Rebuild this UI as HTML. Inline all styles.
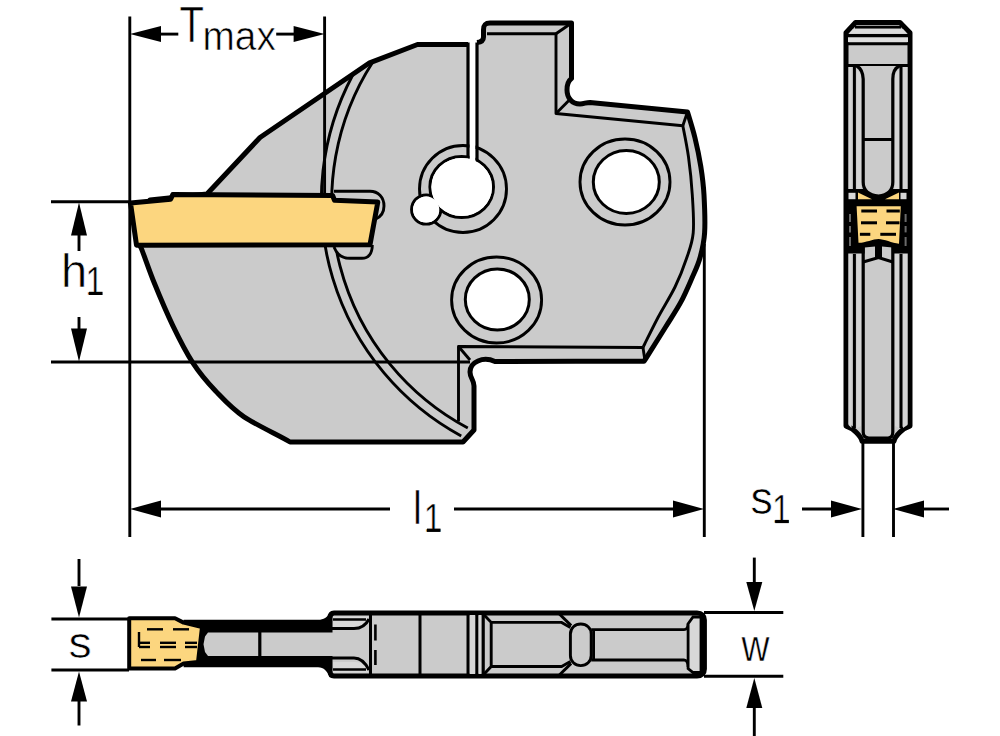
<!DOCTYPE html>
<html><head><meta charset="utf-8"><style>
html,body{margin:0;padding:0;background:#fff;width:1000px;height:736px;overflow:hidden}
svg{display:block}
</style></head><body>
<svg width="1000" height="736" viewBox="0 0 1000 736">
<rect width="1000" height="736" fill="#fff"/>
<path d="M477,42.6 C482,42 483.5,40 483.5,37 L483.5,30 C483.5,25 485,23 490,23 L571.5,23 L571.5,78.5 C568,81 567,85 567,90 C567,98 572,104 580,104 C584,104 586,102.4 590,102.4 L687.5,112 C688.8,116.3 692.8,128.9 695,138 C697.2,147.1 699.3,157 700.8,166.5 C702.3,176 703.4,183.9 704,195 C704.6,206.1 705.3,222.4 704.6,233 C703.9,243.6 701.9,251.1 699.8,258.5 C697.7,265.9 695.4,270.2 692.2,277.5 C689,284.8 685.2,293.9 680.8,302.2 C676.4,310.4 671.3,317.8 665.6,327 C659.9,336.2 650.2,351.7 646.6,357.4 C643,363.1 644.3,360.4 643.8,361 L495,361.5 C483,356 470,362 470,372 C470,378 474,380 474,386 L474,430 L463,442 L290,442 C282.3,437 256.4,425.1 244,416.8 C231.6,408.5 224.2,400 215.6,391 C207,382 199.8,373.5 192.7,362.6 C185.6,351.7 179.2,338.9 172.8,325.6 C166.4,312.3 159.4,295.6 154.2,282.8 C149,270 144.1,255.1 141.4,248.6 C138.7,242.1 138.6,244.8 138,244 L150,200 L207,194 L260,137.5 L369.6,62.8 L417.5,44.5 L468,44.5 L468,170 L477,170 Z" fill="#cbcbcb"/>
<path d="M477,42.6 C482,42 483.5,40 483.5,37 L483.5,30 C483.5,25 485,23 490,23 L571.5,23 L571.5,78.5 C568,81 567,85 567,90 C567,98 572,104 580,104 C584,104 586,102.4 590,102.4 L687.5,112 C688.8,116.3 692.8,128.9 695,138 C697.2,147.1 699.3,157 700.8,166.5 C702.3,176 703.4,183.9 704,195 C704.6,206.1 705.3,222.4 704.6,233 C703.9,243.6 701.9,251.1 699.8,258.5 C697.7,265.9 695.4,270.2 692.2,277.5 C689,284.8 685.2,293.9 680.8,302.2 C676.4,310.4 671.3,317.8 665.6,327 C659.9,336.2 650.2,351.7 646.6,357.4 C643,363.1 644.3,360.4 643.8,361 L495,361.5 C483,356 470,362 470,372 C470,378 474,380 474,386 L474,430 L463,442 L290,442 C282.3,437 256.4,425.1 244,416.8 C231.6,408.5 224.2,400 215.6,391 C207,382 199.8,373.5 192.7,362.6 C185.6,351.7 179.2,338.9 172.8,325.6 C166.4,312.3 159.4,295.6 154.2,282.8 C149,270 144.1,255.1 141.4,248.6 C138.7,242.1 138.6,244.8 138,244 L150,200 L207,194 L260,137.5 L369.6,62.8 L417.5,44.5 L468,44.5" fill="none" stroke="#000" stroke-width="5" stroke-linejoin="round"/>
<path d="M487,33.8 L556,33.8 L556,113.5 L682.8,125.7 C683.8,130.9 686.9,145.4 688.5,157 C690.1,168.6 691.5,182.3 692.3,195 C693.1,207.7 694.2,222.4 693.2,233 C692.2,243.6 689.5,249.5 686.5,258.5 C683.5,267.5 679.8,277.2 675,287 C670.2,296.8 663,308 658,317.5 C653,327 647.2,339 644.7,344 C642.2,349 643.3,346.9 643,347.5 L458.5,346.5 L458.5,421.5" fill="none" stroke="#000" stroke-width="2.9" stroke-linejoin="round"/>
<line x1="571.5" y1="23" x2="556" y2="33.8" stroke="#000" stroke-width="2.9" />
<line x1="568.6" y1="100.7" x2="556" y2="113.5" stroke="#000" stroke-width="2.9" />
<line x1="687.5" y1="112" x2="682.8" y2="125.7" stroke="#000" stroke-width="2.9" />
<line x1="645" y1="361" x2="643" y2="347.5" stroke="#000" stroke-width="2.9" />
<line x1="458.5" y1="346.5" x2="470" y2="360" stroke="#000" stroke-width="2.9" />
<path d="M352.5,75.5 A267.6,267.6 0 0 0 461.2,436" fill="none" stroke="#000" stroke-width="2.9"/>
<path d="M372.5,62.5 A256.8,256.8 0 0 0 467.8,428" fill="none" stroke="#000" stroke-width="2.9"/>
<ellipse cx="463" cy="189" rx="43.5" ry="43.5" fill="none" stroke="#000" stroke-width="2.9"/>
<circle cx="426.2" cy="209.5" r="14.6" fill="#fff" stroke="#000" stroke-width="3"/>
<ellipse cx="461.7" cy="187" rx="31.8" ry="30.5" fill="#fff" stroke="#000" stroke-width="3"/>
<circle cx="426.2" cy="209.5" r="13.1" fill="#fff"/>
<ellipse cx="461.7" cy="187" rx="30.3" ry="29" fill="#fff"/>
<rect x="469.5" y="30" width="6" height="135" fill="#fff"/>
<line x1="468" y1="42.5" x2="468" y2="158" stroke="#000" stroke-width="3.2" />
<line x1="477" y1="42.5" x2="477" y2="160" stroke="#000" stroke-width="3.2" />
<path d="M437,199 A31.8,30.5 0 0 0 441,211" fill="none" stroke="#fff" stroke-width="0"/>
<ellipse cx="625" cy="182" rx="45" ry="43" fill="none" stroke="#000" stroke-width="2.9"/>
<ellipse cx="626.3" cy="182" rx="33" ry="31.5" fill="#fff" stroke="#000" stroke-width="3"/>
<ellipse cx="496.6" cy="300" rx="45" ry="43" fill="none" stroke="#000" stroke-width="2.9"/>
<ellipse cx="497.3" cy="299.5" rx="32" ry="30.5" fill="#fff" stroke="#000" stroke-width="3"/>
<path d="M334,191.2 L370,191.2 C378,191.2 384,197 384,206 C384,213 381,217 375,219.5" fill="#cbcbcb" stroke="#000" stroke-width="2.9"/>
<path d="M334,247 C337,255 342,258.3 350,258.3 L362,258.3 C368,258.3 372.3,254 372.3,245" fill="#cbcbcb" stroke="#000" stroke-width="2.9"/>
<path d="M130.5,203.1 L170.6,199.3 L172.8,194.6 L332.6,195.5 L334.5,200.2 L377.8,202.1 L370,244.7 L136.5,245.2 Z" fill="#fcd67f" stroke="#000" stroke-width="5" stroke-linejoin="round"/>
<line x1="129.8" y1="16.5" x2="129.8" y2="537" stroke="#000" stroke-width="2.9" />
<line x1="324.6" y1="16.5" x2="324.6" y2="196" stroke="#000" stroke-width="2.9" />
<line x1="51" y1="201.7" x2="131" y2="201.7" stroke="#000" stroke-width="2.9" />
<line x1="51" y1="362" x2="470" y2="362" stroke="#000" stroke-width="2.9" />
<line x1="704.3" y1="244" x2="704.3" y2="537" stroke="#000" stroke-width="2.9" />
<polygon points="130,34.1 161,26.1 161,42.1" fill="#000"/>
<line x1="158" y1="34.1" x2="178.3" y2="34.1" stroke="#000" stroke-width="2.9" />
<polygon points="324.6,34.1 293.6,26.1 293.6,42.1" fill="#000"/>
<line x1="276.2" y1="34.1" x2="297" y2="34.1" stroke="#000" stroke-width="2.9" />
<polygon points="79,202.5 71,235.5 87,235.5" fill="#000"/>
<line x1="79" y1="232" x2="79" y2="251" stroke="#000" stroke-width="2.9" />
<polygon points="79,361.5 71,328.5 87,328.5" fill="#000"/>
<line x1="79" y1="317" x2="79" y2="332" stroke="#000" stroke-width="2.9" />
<polygon points="130,509 161,500.5 161,517.5" fill="#000"/>
<line x1="158" y1="509" x2="390" y2="509" stroke="#000" stroke-width="2.9" />
<polygon points="704,509 673,500.5 673,517.5" fill="#000"/>
<line x1="454" y1="509" x2="676" y2="509" stroke="#000" stroke-width="2.9" />
<polygon points="862,509 831,500.5 831,517.5" fill="#000"/>
<line x1="802" y1="509" x2="835" y2="509" stroke="#000" stroke-width="2.9" />
<polygon points="893,509 924,500.5 924,517.5" fill="#000"/>
<line x1="920" y1="509" x2="949" y2="509" stroke="#000" stroke-width="2.9" />
<line x1="862.9" y1="441" x2="862.9" y2="537" stroke="#000" stroke-width="2.9" />
<line x1="893.5" y1="441" x2="893.5" y2="537" stroke="#000" stroke-width="2.9" />
<path d="M855.5,22.5 L900,22.5 L910,32.8 L910,426 C903,428 895,436 894,441.3 L862,441.3 C861,436 853,428 846,426 L846,32.8 Z" fill="#cbcbcb" stroke="#000" stroke-width="5" stroke-linejoin="round"/>
<path d="M853,29 L903,29 L907,33.5 L849,33.5 Z" fill="#dcdcdc"/>
<rect x="848" y="37" width="60" height="5" fill="#dedede"/>
<path d="M848.5,67 L851.5,67 L851.5,428 L848.5,425 Z M857,70 L861,74 L861,426 L857,428 Z M895,74 L899,70 L899,428 L895,426 Z M903,67 L907.5,67 L907.5,425 L903,428 Z" fill="#d5d5d5"/>
<line x1="855" y1="27.1" x2="901" y2="27.1" stroke="#000" stroke-width="2.6" />
<line x1="848" y1="35.7" x2="908" y2="35.7" stroke="#000" stroke-width="3.2" />
<line x1="848" y1="43.8" x2="908" y2="43.8" stroke="#000" stroke-width="3" />
<line x1="848" y1="65.4" x2="908" y2="65.4" stroke="#000" stroke-width="3" />
<path d="M854.4,65 L854.4,191 M901,65 L901,191" stroke="#000" stroke-width="3" fill="none"/>
<rect x="846" y="189" width="64" height="64.5" fill="#000"/>
<rect x="848.5" y="192.8" width="7" height="6.4" fill="#d8d8d8"/>
<rect x="900.5" y="192.8" width="6" height="6.4" fill="#d8d8d8"/>
<path d="M858,192.5 L872,199.2 L858,199.2 Z M899,192.5 L885,199.2 L899,199.2 Z" fill="#fcd67f"/>
<path d="M856.7,66 C860.5,68 862.8,72 863.2,79 L863.2,182 C863.2,190 868,195 878.5,196 C889,195 892.8,190 892.8,182 L892.8,79 C892.8,72 895,68 899.3,66" stroke="#000" stroke-width="3.2" fill="#cbcbcb"/>
<line x1="863.2" y1="139.5" x2="892.8" y2="139.5" stroke="#000" stroke-width="3" />
<line x1="850" y1="214" x2="850" y2="222" stroke="#6a6a6a" stroke-width="2"/>
<line x1="850" y1="226" x2="850" y2="232.4" stroke="#6a6a6a" stroke-width="2"/>
<line x1="850" y1="237" x2="850" y2="246" stroke="#6a6a6a" stroke-width="2"/>
<line x1="905.6" y1="214" x2="905.6" y2="222" stroke="#6a6a6a" stroke-width="2"/>
<line x1="905.6" y1="226" x2="905.6" y2="232.4" stroke="#6a6a6a" stroke-width="2"/>
<line x1="905.6" y1="237" x2="905.6" y2="246" stroke="#6a6a6a" stroke-width="2"/>
<path d="M856.6,206.2 L900.8,206.2 L899,243.8 C892,243 884,239 878.5,239 C873,239 865,243 858.5,242.8 Z" fill="#fcd67f"/>
<line x1="861.3" y1="211" x2="877" y2="211" stroke="#000" stroke-width="3" />
<line x1="886.5" y1="211" x2="899.8" y2="211" stroke="#000" stroke-width="3" />
<line x1="861" y1="222.8" x2="877" y2="222.8" stroke="#000" stroke-width="3" />
<line x1="886" y1="222.8" x2="899.5" y2="222.8" stroke="#000" stroke-width="3" />
<line x1="859.9" y1="234.3" x2="870.3" y2="234.3" stroke="#000" stroke-width="3" />
<line x1="880.3" y1="234.3" x2="896" y2="234.3" stroke="#000" stroke-width="3" />
<path d="M864.6,247.6 L875,246.6 L875,257 L864.6,260 Z M882,246.6 L892.4,247.6 L892.4,260 L882,257 Z" fill="#cbcbcb"/>
<rect x="875" y="246" width="7" height="12" fill="#000"/>
<path d="M863.2,262 L878.5,257.5 L892.8,262" stroke="#000" stroke-width="3" fill="none"/>
<path d="M854.4,254 L854.4,428 M901,254 L901,428" stroke="#000" stroke-width="3" fill="none"/>
<path d="M863.2,246 L863.2,432 C863.2,436 865,438 869,438 L888,438 C891,438 892.8,436 892.8,432 L892.8,246" stroke="#000" stroke-width="3.2" fill="none"/>
<path d="M334,613 L697,613 C702,613 704.4,616 704.4,620 L704.4,669 C704.4,673 702,676 697,676 L334,676 C331,676 330,674 330,671 L330,618 C330,615 331,613 334,613 Z" fill="#cbcbcb" stroke="#000" stroke-width="5"/>
<path d="M183.6,619.8 L318,619.8 C324,619.8 327,617 330,613 L330,677 C327,671.5 324,667.3 318,667.3 L183.6,667.3 Z" fill="#000"/>
<path d="M208,632.5 L355,632.5 C362,632.5 366,627 368,620 L368,669 C366,661 362,656 355,656 L208,656 L205,652 L203.5,644.3 L205,636.5 Z" fill="#cbcbcb"/>
<path d="M333,616.5 L368,616.5 L368,621 C365,624 362,627 355,627 L333,627 Z M333,672.5 L368,672.5 L368,668 C365,665 362,662 355,662 L333,662 Z" fill="#d8d8d8"/>
<path d="M333,619.5 L366,619.5 M333,669.5 L366,669.5" stroke="#000" stroke-width="2.4" fill="none"/>
<path d="M330,628.5 L354,628.5 C362,628.5 366,625 369,619 M330,658 L354,658 C362,658 366,664 369,670" stroke="#000" stroke-width="3" fill="none"/>
<line x1="259.8" y1="632" x2="259.8" y2="656.5" stroke="#000" stroke-width="3.2" />
<line x1="370.5" y1="615" x2="370.5" y2="674" stroke="#000" stroke-width="3" />
<path d="M375.4,624.5 L375.4,640.4 M375.4,650 L375.4,665" stroke="#000" stroke-width="2.6"/>
<line x1="420" y1="615" x2="420" y2="674" stroke="#000" stroke-width="3" />
<rect x="469.5" y="615" width="6" height="59" fill="#d6d6d6"/>
<rect x="478.3" y="615" width="3.5" height="59" fill="#d6d6d6"/>
<line x1="468" y1="614" x2="468" y2="675" stroke="#000" stroke-width="3" />
<line x1="476.8" y1="614" x2="476.8" y2="675" stroke="#000" stroke-width="3" />
<line x1="483.2" y1="614" x2="483.2" y2="675" stroke="#000" stroke-width="3.2" />
<path d="M483.2,614 L491.2,622.4 L561.6,622.4 L570.4,627.5 M483.2,675 L491.2,666.5 L561.6,666.5 L570.4,661.5 M491.2,622.4 L491.2,666.5" stroke="#000" stroke-width="2.9" fill="none"/>
<line x1="558.4" y1="613" x2="571.2" y2="625.6" stroke="#000" stroke-width="2.9" />
<line x1="558.4" y1="676" x2="571.2" y2="663.4" stroke="#000" stroke-width="2.9" />
<path d="M580.8,624 C575,624 570.4,628 570.4,634 L570.4,655.6 C570.4,661.5 575,665.6 580.8,665.6 C586.5,665.6 591.2,661.5 591.2,655.6 L591.2,634 C591.2,628 586.5,624 580.8,624 Z" fill="none" stroke="#000" stroke-width="2.9"/>
<path d="M591.2,629.6 L684,629.6 C686.5,629.6 688.1,627 688.1,623.8 M591.2,660 L684,660 C686.5,660 688.1,663 688.1,667 M593.6,629.6 L593.6,660" stroke="#000" stroke-width="2.8" fill="none"/>
<path d="M688.1,623.8 L693,617 L701,617 L701,672.5 L693,672.5 L688.1,668.5 Z" fill="#d8d8d8" stroke="#000" stroke-width="2.8"/>
<path d="M129.2,618.3 L175,618.3 L183.6,622.6 L202,627 L198,662 L183.6,663.6 L175,668.5 L129.2,668.5 Z" fill="#fcd67f" stroke="#000" stroke-width="4" stroke-linejoin="round"/>
<line x1="147" y1="629.3" x2="163" y2="629.3" stroke="#000" stroke-width="2.4" />
<line x1="173" y1="629.3" x2="189" y2="629.3" stroke="#000" stroke-width="2.4" />
<line x1="139" y1="642.8" x2="150" y2="642.8" stroke="#000" stroke-width="2.4" />
<line x1="160" y1="642.8" x2="176" y2="642.8" stroke="#000" stroke-width="2.4" />
<line x1="185" y1="642.8" x2="197" y2="642.8" stroke="#000" stroke-width="2.4" />
<line x1="139" y1="647" x2="150" y2="647" stroke="#000" stroke-width="2.4" />
<line x1="160" y1="647" x2="176" y2="647" stroke="#000" stroke-width="2.4" />
<line x1="185" y1="647" x2="197" y2="647" stroke="#000" stroke-width="2.4" />
<line x1="141" y1="660" x2="156" y2="660" stroke="#000" stroke-width="2.4" />
<line x1="164" y1="660" x2="181" y2="660" stroke="#000" stroke-width="2.4" />
<line x1="139" y1="632" x2="139" y2="647" stroke="#000" stroke-width="2.4" />
<line x1="51.4" y1="619" x2="129" y2="619" stroke="#000" stroke-width="2.9" />
<line x1="51.4" y1="670" x2="129" y2="670" stroke="#000" stroke-width="2.9" />
<line x1="79" y1="559" x2="79" y2="586" stroke="#000" stroke-width="2.9" />
<polygon points="79,617.5 71,586.5 87,586.5" fill="#000"/>
<polygon points="79,671.5 71,701.5 87,701.5" fill="#000"/>
<line x1="79" y1="700" x2="79" y2="725.5" stroke="#000" stroke-width="2.9" />
<line x1="704" y1="612.5" x2="783.3" y2="612.5" stroke="#000" stroke-width="2.9" />
<line x1="704" y1="676.3" x2="783.3" y2="676.3" stroke="#000" stroke-width="2.9" />
<line x1="754.3" y1="557.6" x2="754.3" y2="586" stroke="#000" stroke-width="2.9" />
<polygon points="754.3,611 746.3,582 762.3,582" fill="#000"/>
<polygon points="754.3,678 746.3,708 762.3,708" fill="#000"/>
<line x1="754.3" y1="706" x2="754.3" y2="736" stroke="#000" stroke-width="2.9" />
<text x="179.5" y="41.8" style="font-family:&quot;Liberation Sans&quot;,sans-serif;" font-size="50" stroke="#fff" stroke-width="0.6" transform="translate(179.5,0) scale(0.8,1) translate(-179.5,0)">T</text>
<text x="202.5" y="49.6" style="font-family:&quot;Liberation Sans&quot;,sans-serif;" font-size="40" stroke="#fff" stroke-width="0.6" transform="translate(202.5,0) scale(0.97,1) translate(-202.5,0)">max</text>
<text x="61" y="286.6" style="font-family:&quot;Liberation Sans&quot;,sans-serif;" font-size="47" stroke="#fff" stroke-width="0.6" transform="translate(61,0) scale(1.0,1) translate(-61,0)">h</text>
<text x="85.5" y="295" style="font-family:&quot;Liberation Sans&quot;,sans-serif;" font-size="40" stroke="#fff" stroke-width="0.6" transform="translate(85.5,0) scale(0.82,1) translate(-85.5,0)">1</text>
<text x="413" y="524" style="font-family:&quot;Liberation Sans&quot;,sans-serif;" font-size="47" stroke="#fff" stroke-width="0.6" transform="translate(413,0) scale(0.85,1) translate(-413,0)">l</text>
<text x="423.7" y="531.8" style="font-family:&quot;Liberation Sans&quot;,sans-serif;" font-size="40" stroke="#fff" stroke-width="0.6" transform="translate(423.7,0) scale(0.82,1) translate(-423.7,0)">1</text>
<text x="750.5" y="513.6" style="font-family:&quot;Liberation Sans&quot;,sans-serif;" font-size="46" stroke="#fff" stroke-width="0.6" transform="translate(750.5,0) scale(0.97,1) translate(-750.5,0)">s</text>
<text x="772" y="523.1" style="font-family:&quot;Liberation Sans&quot;,sans-serif;" font-size="40" stroke="#fff" stroke-width="0.6" transform="translate(772,0) scale(0.82,1) translate(-772,0)">1</text>
<text x="68.5" y="658.3" style="font-family:&quot;Liberation Sans&quot;,sans-serif;" font-size="44.5" stroke="#fff" stroke-width="0.6" transform="translate(68.5,0) scale(1.04,1) translate(-68.5,0)">s</text>
<text x="741.5" y="661" style="font-family:&quot;Liberation Sans&quot;,sans-serif;" font-size="44" stroke="#fff" stroke-width="0.6" transform="translate(741.5,0) scale(0.88,1) translate(-741.5,0)">w</text><rect x="89" y="291.8" width="13.5" height="3.2" fill="#000"/><rect x="427" y="528.6" width="13.5" height="3.2" fill="#000"/><rect x="775.3" y="519.9" width="13.5" height="3.2" fill="#000"/>
</svg>
</body></html>
